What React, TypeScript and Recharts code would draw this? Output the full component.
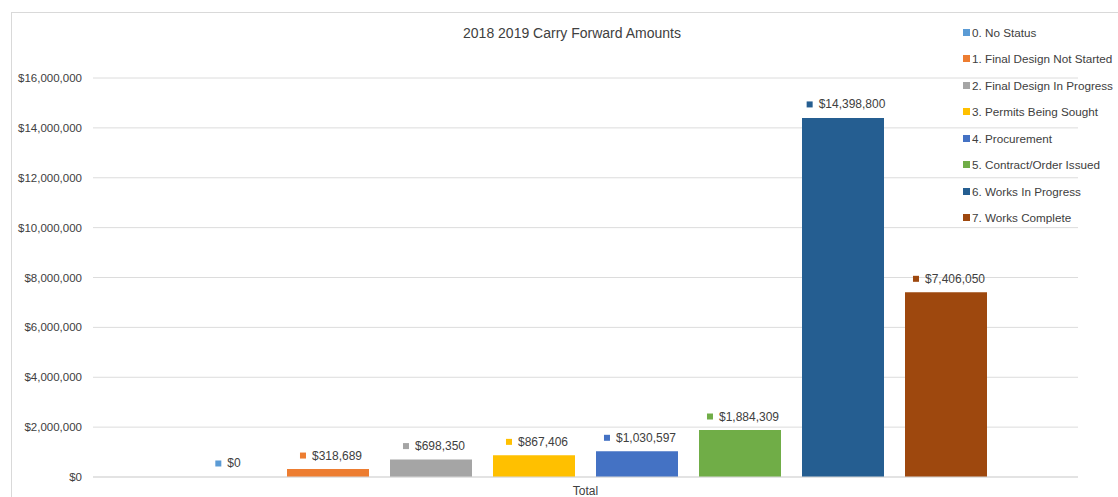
import React from 'react';
import { BarChart, Bar, XAxis, YAxis, CartesianGrid, LabelList } from 'recharts';

const categories = ['Total'];
const seriesNames = [
    '0. No Status',
    '1. Final Design Not Started',
    '2. Final Design In Progress',
    '3. Permits Being Sought',
    '4. Procurement',
    '5. Contract/Order Issued',
    '6. Works In Progress',
    '7. Works Complete',
];
const seriesValues = [0, 318689, 698350, 867406, 1030597, 1884309, 14398800, 7406050];
const seriesColors = ['#5B9BD5', '#ED7D31', '#A5A5A5', '#FFC000', '#4472C4', '#70AD47', '#255E91', '#9E480E'];
const yTicks = [0, 2000000, 4000000, 6000000, 8000000, 10000000, 12000000, 14000000, 16000000];

const data = categories.map((name) => {
    const row: Record<string, string | number> = { name };
    seriesValues.forEach((v, i) => {
        row[`s${i}`] = v;
    });
    return row;
});

const font = '"Liberation Sans", Arial, sans-serif';
const money = (v: number) => `$${Math.round(v).toLocaleString('en-US')}`;

// rough text width for 12px Arial-like digits
const textWidth = (s: string) =>
    s.split('').reduce((w, c) => w + (c === ',' ? 3.34 : 6.67), 0);

const makeLabel = (color: string) => (props: any) => {
    const { x, y, width, height, value } = props;
    const txt = money(Number(value) || 0);
    const tw = textWidth(txt);
    const total = 12 + tw;
    const left = Number(x) + Number(width) / 2 + 3 - total / 2;
    const top = Math.min(Number(y), Number(y) + Number(height || 0));
    const cy = top - 13.5;
    return (
        <g>
            <rect x={left} y={cy - 3} width={6} height={6} fill={color} />
            <text
                x={left + 12}
                y={cy}
                dominantBaseline="central"
                fontSize={12}
                fontFamily={font}
                fill="#404040"
            >
                {txt}
            </text>
        </g>
    );
};

export default function App() {
    return (
        <div
            style={{
                position: 'absolute',
                left: 0,
                top: 0,
                width: 1118,
                height: 497,
                background: '#fff',
                overflow: 'hidden',
                fontFamily: font,
            }}
        >
            <div
                style={{
                    position: 'absolute',
                    left: 11,
                    top: 12,
                    width: 1300,
                    height: 700,
                    border: '1px solid #d9d9d9',
                }}
            />
            <div
                style={{
                    position: 'absolute',
                    left: 372,
                    width: 400,
                    top: 25,
                    textAlign: 'center',
                    fontSize: 14,
                    color: '#404040',
                }}
            >
                2018 2019 Carry Forward Amounts
            </div>
            <div style={{ position: 'absolute', left: 0, top: 0 }}>
                <BarChart
                    width={1118}
                    height={497}
                    data={data}
                    margin={{ top: 78, right: 40, bottom: 0, left: 0 }}
                    barSize={82}
                    barGap={21}
                >
                    <CartesianGrid vertical={false} stroke="#dcdcdc" />
                    <XAxis
                        dataKey="name"
                        height={20}
                        tickLine={false}
                        axisLine={{ stroke: '#d9d9d9' }}
                        tickMargin={3}
                        tick={{ fontSize: 12, fill: '#404040', fontFamily: font }}
                    />
                    <YAxis
                        width={93}
                        domain={[0, 16000000]}
                        ticks={yTicks}
                        tickFormatter={money}
                        axisLine={false}
                        tickLine={false}
                        tickMargin={5}
                        tick={{ fontSize: 11.5, fill: '#404040', fontFamily: font }}
                    />
                    {seriesNames.map((n, i) => (
                        <Bar
                            key={n}
                            dataKey={`s${i}`}
                            name={n}
                            fill={seriesColors[i]}
                            minPointSize={0.01}
                            isAnimationActive={false}
                        >
                            <LabelList dataKey={`s${i}`} content={makeLabel(seriesColors[i])} />
                        </Bar>
                    ))}
                </BarChart>
            </div>
            <div style={{ position: 'absolute', left: 963, top: 32 }}>
                {seriesNames.map((n, i) => (
                    <div
                        key={n}
                        style={{
                            position: 'absolute',
                            left: 0,
                            top: i * 26.5 - 8,
                            height: 16,
                            display: 'flex',
                            alignItems: 'center',
                            whiteSpace: 'nowrap',
                            fontSize: 11.7,
                            color: '#404040',
                        }}
                    >
                        <span
                            style={{
                                display: 'inline-block',
                                width: 7,
                                height: 7,
                                background: seriesColors[i],
                                marginRight: 2,
                            }}
                        />
                        {n}
                    </div>
                ))}
            </div>
        </div>
    );
}
